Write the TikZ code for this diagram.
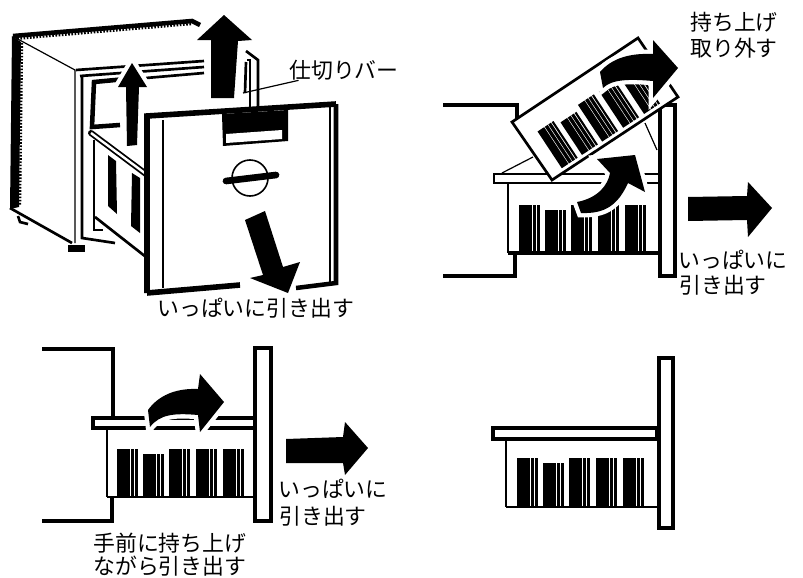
\documentclass[tikz,border=0pt]{standalone}
\usepackage{fontspec}
\setmainfont{Noto Sans CJK JP}
\tikzstyle{label}=[inner sep=0pt, anchor=west, font=\fontsize{16.4}{16.4}\selectfont]
\tikzstyle{door line}=[-, line width=4.2pt, draw=black, line join=miter]
\tikzstyle{thick line}=[-, line width=3.4pt, draw=black, line join=miter]
\tikzstyle{mid line}=[-, line width=2pt, draw=black]
\tikzstyle{thin line}=[-, line width=0.9pt, draw=black]
\tikzstyle{teeth line}=[-, line width=1.8pt, draw=black, dash pattern=on 1.2pt off 1.2pt]
\tikzstyle{frame}=[fill=white, draw=black, line width=3.6pt]
\tikzstyle{block arrow}=[fill=black, preaction={draw=white, line width=6.5pt}]
\tikzstyle{solid part}=[fill=black]
\newcommand{\barcodes}[2]{
	\foreach \g in {0,26,52,79,106} {
		\foreach \a/\b in {0/8.5,9.3/13,13.8/17.2,18.2/20.5} {
			\ifnum\g=26
				\fill [style=solid part] (\g+\a,#1+5) rectangle (\g+\b,#2);
			\else
				\fill [style=solid part] (\g+\a,#1) rectangle (\g+\b,#2);
			\fi
		}
	}
}
\pgfdeclarelayer{nodelayer}
\pgfdeclarelayer{edgelayer}
\pgfsetlayers{edgelayer,main,nodelayer}
\begin{document}
\begin{tikzpicture}[x=0.75pt, y=-0.75pt]
	\useasboundingbox (0,0) rectangle (803,578);
	\begin{pgfonlayer}{nodelayer}
		\node [style=label] (0) at (289,70) {仕切りバー};
		\node [style=label] (1) at (157,308) {いっぱいに引き出す};
		\node [style=label] (2) at (690,22) {持ち上げ};
		\node [style=label] (3) at (690,48) {取り外す};
		\node [style=label] (4) at (678,260) {いっぱいに};
		\node [style=label] (5) at (679,285) {引き出す};
		\node [style=label] (6) at (278,489) {いっぱいに};
		\node [style=label] (7) at (279,516) {引き出す};
		\node [style=label] (8) at (93,543) {手前に持ち上げ};
		\node [style=label] (9) at (93,566) {ながら引き出す};
		\coordinate (10) at (243,93);
	\end{pgfonlayer}
	\begin{pgfonlayer}{edgelayer}
		% cabinet
		\draw [style=thick line] (13,36) -- (192,21) -- (200,25);
		\draw [style=teeth line] (14,39) -- (192,24);
		\fill [style=solid part] (12,36) -- (21,42) -- (19,207) -- (10,209) -- cycle;
		\draw [style=teeth line] (22,43) -- (20,206);
		\draw [style=thin line] (14,37) -- (75,70) -- (75,243);
		\draw [style=mid line] (10,208) -- (72,243);
		\draw [style=mid line, fill=white] (18,216) -- (20,222) -- (28,224);
		\fill [style=solid part] (68,245) rectangle (85,252);
		\draw [style=mid line] (76,70) -- (204,61);
		\draw [style=mid line] (80,76) -- (204,67);
		\draw [style=mid line] (146,78) -- (204,73);
		\draw [style=mid line] (82,76) -- (82,238) -- (115,243);
		\draw [style=thick line] (126,79) -- (94,82) -- (92,127) -- (120,125);
		\draw [style=mid line] (246,51) -- (258,60) -- (258,107);
		\draw [style=mid line] (247,60) -- (250,60) -- (250,107);
		\draw [style=mid line] (246,62) -- (245,93);
		% drawer
		\draw [style=mid line] (94,140) -- (94,230) -- (103,230);
		\draw [style=mid line] (95,217) -- (146,257);
		\fill [style=solid part] (108,155) -- (116,161) -- (117,214) -- (108,206) -- cycle;
		\fill [style=solid part] (132,173) -- (140,178) -- (140,233) -- (131,226) -- cycle;
		\draw [line width=4.5pt, line cap=round] (91,133) -- (146,174);
		\draw [line width=1.8pt, draw=white] (91,133) -- (146,174);
		% door
		\fill [fill=white] (146,116) -- (336,103) -- (336,287) -- (146,294) -- cycle;
		\draw [style=door line] (147,293) -- (147,116) -- (336,104);
		\draw [style=thick line] (336,104) -- (336,283) -- (296,288);
		\draw [style=door line] (147,293) -- (240,285);
		\draw [style=mid line] (163,120) -- (163,288);
		\draw [style=mid line] (330,106) -- (330,282);
		\fill [style=solid part] (222,114) -- (288,110) -- (288,141) -- (223,146) -- cycle;
		\fill [fill=white] (226,134) -- (282,130) -- (282,139) -- (226,143) -- cycle;
		\draw [line width=1.2pt, fill=white] (250,178) circle (18);
		\draw [line width=5pt, line cap=round] (226,181) -- (276,175);
		% arrows of the first view
		\fill [style=block arrow] (224,15) -- (252,40) -- (238,41) -- (234,98) -- (211,98) -- (211,40) -- (197,40) -- cycle;
		\fill [style=block arrow] (132,63) -- (147,87) -- (139,87) -- (137,145) -- (127,146) -- (126,87) -- (118,87) -- cycle;
		\fill [style=block arrow] (245,220) -- (265,211) -- (283,267) -- (300,262) -- (288,293) -- (250,278) -- (263,275) -- cycle;
		% second view
		\draw [style=thick line] (443,105) -- (517,105) -- (517,120);
		\draw [style=thick line] (443,276) -- (515,276) -- (515,253);
		\draw [style=thin line] (502,173) -- (533,157);
		\draw [style=thin line] (645,123) -- (657,150);
		\draw [style=mid line, fill=white] (494,174) rectangle (659,183);
		\draw [style=mid line] (508,184) -- (508,253);
		\draw [style=thick line] (508,253) -- (659,253);
		\begin{scope}[shift={(519,205)}]
			\barcodes{0}{47}
		\end{scope}
		\draw [style=frame] (660,105) rectangle (675,276);
		\draw [style=mid line, fill=white] (512,122) -- (638,38) -- (678,97) -- (552,180) -- cycle;
		\begin{scope}[shift={(512,122)}, rotate=33.4, xscale=0.93]
			\begin{scope}[xshift=13]
				\barcodes{22}{66}
			\end{scope}
		\end{scope}
		\fill [style=block arrow] (600,72) .. controls (612,58) and (630,53) .. (653,54) -- (653,40) -- (678,68) -- (653,98) -- (653,81) .. controls (630,79) and (612,79) .. (603,88) -- cycle;
		\fill [style=block arrow] (597,159) -- (635,155) -- (645,192) -- (628,183) .. controls (618,205) and (605,214) .. (581,213) -- (577,202) .. controls (598,198) and (608,185) .. (610,173) -- cycle;
		\fill [style=block arrow] (688,197) -- (747,196) -- (748,182) -- (772,208) -- (748,237) -- (747,220) -- (688,221) -- cycle;
		% third view
		\draw [style=thick line] (42,349) -- (113,349) -- (113,417);
		\draw [style=thick line] (42,521) -- (112,521) -- (112,498);
		\draw [style=frame] (93,418) rectangle (255,428);
		\draw [style=mid line] (107,430) -- (107,497);
		\draw [style=mid line] (107,497) -- (255,497);
		\begin{scope}[shift={(117,449)}]
			\barcodes{0}{48}
		\end{scope}
		\draw [style=frame] (255,348) rectangle (271,521);
		\fill [style=block arrow] (148,410) .. controls (158,396) and (175,388) .. (198,389) -- (200,374) -- (224,402) -- (200,432) -- (198,415) .. controls (175,413) and (160,414) .. (150,427) -- cycle;
		\fill [style=block arrow] (286,439) -- (343,437) -- (345,422) -- (368,448) -- (345,475) -- (343,463) -- (286,463) -- cycle;
		% fourth view
		\draw [style=frame] (493,428) rectangle (657,439);
		\draw [style=mid line] (506,441) -- (506,507);
		\draw [style=mid line] (506,507) -- (657,507);
		\begin{scope}[shift={(517,458)}]
			\barcodes{0}{49}
		\end{scope}
		\draw [style=frame] (659,358) rectangle (673,528);
	\end{pgfonlayer}
	\draw [style=thin line] (0) to (10);
\end{tikzpicture}
\end{document}
